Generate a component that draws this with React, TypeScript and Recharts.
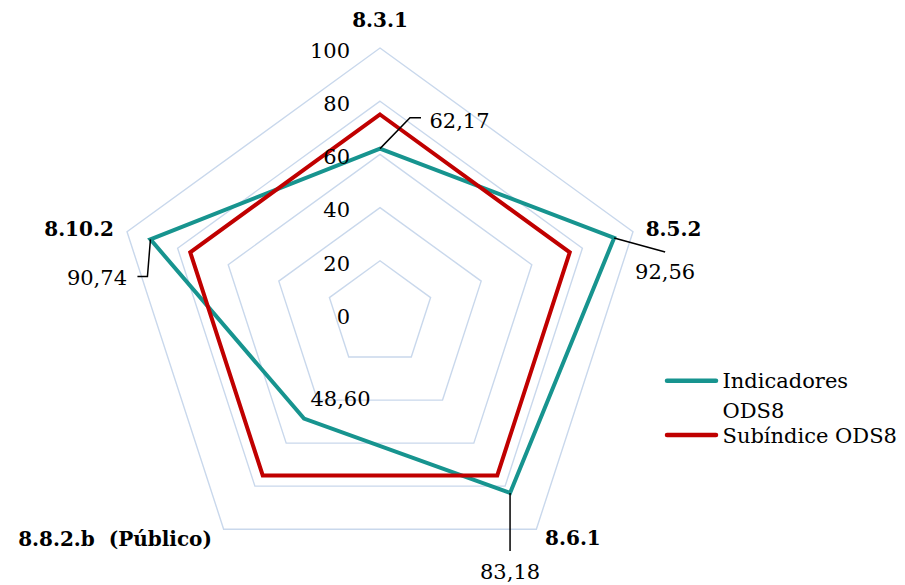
import React from 'react';
import { RadarChart, Radar, PolarGrid, PolarAngleAxis, PolarRadiusAxis } from 'recharts';

const categories = ['8.3.1', '8.5.2', '8.6.1', '8.8.2.b  (Público)', '8.10.2'];
const indicadores = [62.17, 92.56, 83.18, 48.6, 90.74];
const subindice = [75, 75, 75, 75, 75];
const radiusTicks = [0, 20, 40, 60, 80, 100];
const seriesNames = ['Indicadores ODS8', 'Subíndice ODS8'];
const seriesColors = ['#17948f', '#c00000'];

const data = categories.map((c, i) => ({ cat: c, ind: indicadores[i], sub: subindice[i] }));

const W = 905;
const H = 585;
const CX = 380;
const CY = 314;
const R = 266;
const FONT = '"DejaVu Serif", serif';

// label center offsets from outer vertex (style only)
const angleLabelOffsets = [
  [0, -28],
  [40.5, -3.5],
  [36.6, 8.3],
  [-108.6, 9.8],
  [-48, -3.5],
];

// data label offsets: text center, and leader polyline relative to point
const dataLabelStyle = [
  { tx: 79.5, ty: -28, line: [[0, 0], [30, -31], [41, -31]] },
  { tx: 51, ty: 33, line: [[0, 0], [51, 14]] },
  { tx: 0, ty: 78, line: [[0, 0], [0, 58]] },
  { tx: 36.5, ty: -20, line: null },
  { tx: -53.5, ty: 37.5, line: [[0, 0], [-3, 37], [-13, 37]] },
];

const fmt = (v: number) => v.toFixed(2).replace('.', ',');

const AngleTick = (props: any) => {
  const { payload, index } = props;
  const ang = (payload.coordinate * Math.PI) / 180;
  const vx = CX + R * Math.cos(ang);
  const vy = CY - R * Math.sin(ang);
  const off = angleLabelOffsets[index] || [0, 0];
  return (
    <text
      x={vx + off[0]}
      y={vy + off[1] + 7.3}
      textAnchor="middle"
      fontFamily={FONT}
      fontWeight="bold"
      fontSize={20}
      fill="#000"
      style={{ whiteSpace: 'pre' }}
    >
      {payload.value}
    </text>
  );
};

const RadiusTick = (props: any) => {
  const { x, y, payload } = props;
  return (
    <text x={x - 30} y={y + 9.7} textAnchor="end" fontFamily={FONT} fontSize={21} fill="#000">
      {payload.value}
    </text>
  );
};

const LabelDot = (props: any) => {
  const { cx, cy, index, payload } = props;
  const st = dataLabelStyle[index];
  const val = payload && typeof payload.value === 'number' ? payload.value : indicadores[index];
  return (
    <g key={`lbl-${index}`}>
      {st.line && (
        <polyline
          points={st.line.map((p) => `${cx + p[0]},${cy + p[1]}`).join(' ')}
          fill="none"
          stroke="#000"
          strokeWidth={1.5}
        />
      )}
      <text
        x={cx + st.tx}
        y={cy + st.ty + 7.7}
        textAnchor="middle"
        fontFamily={FONT}
        fontSize={21}
        fill="#000"
      >
        {fmt(val)}
      </text>
    </g>
  );
};

const LegendBox = () => (
  <svg width={W} height={H} style={{ position: 'absolute', left: 0, top: 0, pointerEvents: 'none' }}>
    <line x1={667} y1={380.7} x2={716} y2={380.7} stroke={seriesColors[0]} strokeWidth={4.5} strokeLinecap="round" />
    <text x={722.5} y={388} fontFamily={FONT} fontSize={21} fill="#000">
      {seriesNames[0].split(' ')[0]}
    </text>
    <text x={722.5} y={418} fontFamily={FONT} fontSize={21} fill="#000">
      {seriesNames[0].split(' ').slice(1).join(' ')}
    </text>
    <line x1={667} y1={435} x2={716} y2={435} stroke={seriesColors[1]} strokeWidth={4.5} strokeLinecap="round" />
    <text x={722.5} y={443} fontFamily={FONT} fontSize={21} fill="#000">
      {seriesNames[1]}
    </text>
  </svg>
);

export default function App() {
  return (
    <div style={{ position: 'absolute', left: 0, top: 0, width: W, height: H, background: '#fff' }}>
      <RadarChart
        width={W}
        height={H}
        data={data}
        cx={CX}
        cy={CY}
        outerRadius={R}
        margin={{ top: 0, right: 0, bottom: 0, left: 0 }}
      >
        <PolarGrid gridType="polygon" radialLines={false} stroke="#c9d8ec" strokeWidth={1.4} />
        <PolarAngleAxis dataKey="cat" tick={<AngleTick />} tickLine={false} axisLine={false} />
        <PolarRadiusAxis
          angle={90}
          domain={[0, 100]}
          ticks={radiusTicks as any}
          tickCount={6}
          tick={<RadiusTick />}
          axisLine={false}
          tickLine={false}
        />
        <Radar
          name={seriesNames[0]}
          dataKey="ind"
          stroke={seriesColors[0]}
          strokeWidth={4}
          fill="none"
          fillOpacity={0}
          dot={false}
          isAnimationActive={false}
        />
        <Radar
          name={seriesNames[1]}
          dataKey="sub"
          stroke={seriesColors[1]}
          strokeWidth={4}
          fill="none"
          fillOpacity={0}
          dot={false}
          isAnimationActive={false}
        />
        <Radar
          name="labels"
          dataKey="ind"
          stroke="none"
          fill="none"
          fillOpacity={0}
          legendType="none"
          dot={(p: any) => <LabelDot {...p} />}
          isAnimationActive={false}
        />
      </RadarChart>
      <LegendBox />
    </div>
  );
}
